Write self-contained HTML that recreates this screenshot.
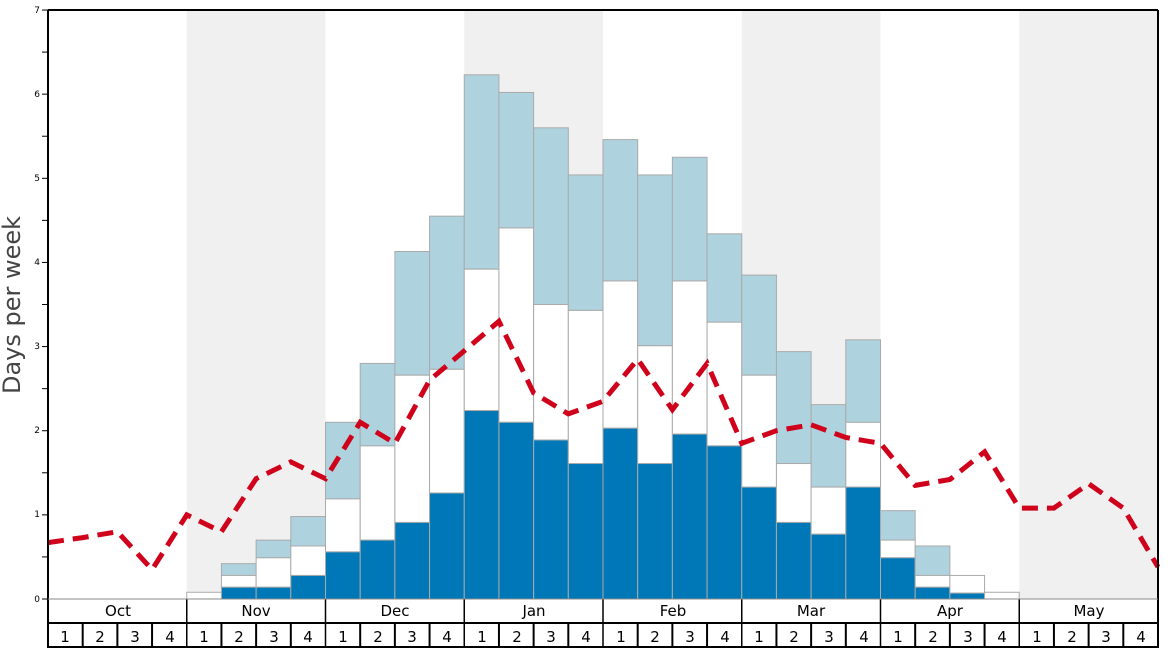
<!DOCTYPE html>
<html><head><meta charset="utf-8"><style>
html,body{margin:0;padding:0;background:#fff;}
svg{display:block;font-family:"DejaVu Sans","Liberation Sans",sans-serif;}
</style></head><body>
<svg id="s" width="1168" height="648" viewBox="0 0 1168 648">
<g id="bands"></g>
<g id="bars"></g>
<g id="ticks"></g>
<polyline id="line" fill="none" stroke="#d0021b" stroke-width="5" stroke-dasharray="16,9"/>
<line x1="48" y1="10" x2="1158" y2="10" stroke="#000" stroke-width="2"/>
<line x1="48" y1="10" x2="48" y2="648" stroke="#000" stroke-width="2"/>
<line x1="1158" y1="10" x2="1158" y2="648" stroke="#000" stroke-width="2"/>
<line x1="48" y1="599" x2="1158" y2="599" stroke="#888" stroke-width="1"/>
<line x1="48" y1="623" x2="1158" y2="623" stroke="#000" stroke-width="2"/>
<line x1="48" y1="647" x2="1158" y2="647" stroke="#000" stroke-width="2"/>
<g font-size="9" text-anchor="end" fill="#000">
<text x="40" y="13">7</text><text x="40" y="97">6</text><text x="40" y="181">5</text><text x="40" y="265">4</text><text x="40" y="349">3</text><text x="40" y="433">2</text><text x="40" y="517">1</text><text x="40" y="602">0</text>
</g>
<text transform="translate(20,305) rotate(-90)" font-size="24" text-anchor="middle" fill="#444">Days per week</text>
<g font-size="15" text-anchor="middle" fill="#000">
<text x="118" y="616">Oct</text><text x="256" y="616">Nov</text><text x="395" y="616">Dec</text><text x="534" y="616">Jan</text><text x="673" y="616">Feb</text><text x="811" y="616">Mar</text><text x="950" y="616">Apr</text><text x="1089" y="616">May</text>
</g>
<g font-size="15" text-anchor="middle" fill="#000">
<text x="65" y="642">1</text><text x="100" y="642">2</text><text x="135" y="642">3</text><text x="170" y="642">4</text>
<text x="204" y="642">1</text><text x="239" y="642">2</text><text x="274" y="642">3</text><text x="308" y="642">4</text>
<text x="343" y="642">1</text><text x="378" y="642">2</text><text x="412" y="642">3</text><text x="447" y="642">4</text>
<text x="482" y="642">1</text><text x="517" y="642">2</text><text x="551" y="642">3</text><text x="586" y="642">4</text>
<text x="621" y="642">1</text><text x="655" y="642">2</text><text x="690" y="642">3</text><text x="725" y="642">4</text>
<text x="759" y="642">1</text><text x="794" y="642">2</text><text x="829" y="642">3</text><text x="864" y="642">4</text>
<text x="898" y="642">1</text><text x="933" y="642">2</text><text x="968" y="642">3</text><text x="1002" y="642">4</text>
<text x="1037" y="642">1</text><text x="1072" y="642">2</text><text x="1106" y="642">3</text><text x="1141" y="642">4</text>
</g>
</svg>
<script>
var NS="http://www.w3.org/2000/svg",W=1110/32,X0=48,Y0=599,K=84.14;
function el(p,t,a){var e=document.createElementNS(NS,t);for(var k in a)e.setAttribute(k,a[k]);document.getElementById(p).appendChild(e);return e;}
function y(v){return Y0-v*K;}
[4,12,20,28].forEach(function(i){el("bands","rect",{x:X0+i*W,y:11,width:4*W,height:588,fill:"#f0f0f0"});});
var d=[[4,0,0.08,0.08],[5,0.14,0.28,0.42],[6,0.14,0.49,0.7],[7,0.28,0.63,0.98],[8,0.56,1.19,2.1],[9,0.7,1.82,2.8],[10,0.91,2.66,4.13],[11,1.26,2.73,4.55],[12,2.24,3.92,6.23],[13,2.1,4.41,6.02],[14,1.89,3.5,5.6],[15,1.61,3.43,5.04],[16,2.03,3.78,5.46],[17,1.61,3.01,5.04],[18,1.96,3.78,5.25],[19,1.82,3.29,4.34],[20,1.33,2.66,3.85],[21,0.91,1.61,2.94],[22,0.77,1.33,2.31],[23,1.33,2.1,3.08],[24,0.49,0.7,1.05],[25,0.14,0.28,0.63],[26,0.07,0.28,0.28],[27,0,0.08,0.08]];
d.forEach(function(r){var x=X0+r[0]*W;
 if(r[3]>r[2])el("bars","rect",{x:x,y:y(r[3]),width:W,height:(r[3]-r[2])*K,fill:"#aed3df",stroke:"#aaa","stroke-width":1});
 if(r[2]>r[1])el("bars","rect",{x:x,y:y(r[2]),width:W,height:(r[2]-r[1])*K,fill:"#fff",stroke:"#aaa","stroke-width":1});
 if(r[1]>0)el("bars","rect",{x:x,y:y(r[1]),width:W,height:r[1]*K,fill:"#0077b6",stroke:"#aaa","stroke-width":1});
});
for(var i=0;i<=14;i++){var yy=Y0-i*K/2;el("ticks","line",{x1:42,x2:48,y1:yy,y2:yy,stroke:"#000","stroke-width":1});}
for(var i=1;i<32;i++){var x=X0+i*W;var maj=i%4==0;el("ticks","line",{x1:x,x2:x,y1:maj?599:623,y2:648,stroke:"#000","stroke-width":maj?1.5:2});}
var L=[0.67,0.73,0.8,0.35,1.0,0.8,1.43,1.63,1.43,2.1,1.85,2.6,2.95,3.3,2.45,2.2,2.35,2.85,2.25,2.8,1.85,2.0,2.07,1.92,1.85,1.35,1.42,1.75,1.08,1.08,1.37,1.08,0.38];
document.getElementById("line").setAttribute("points",L.map(function(v,i){return (X0+i*W).toFixed(1)+","+y(v).toFixed(1);}).join(" "));
</script>
</body></html>
